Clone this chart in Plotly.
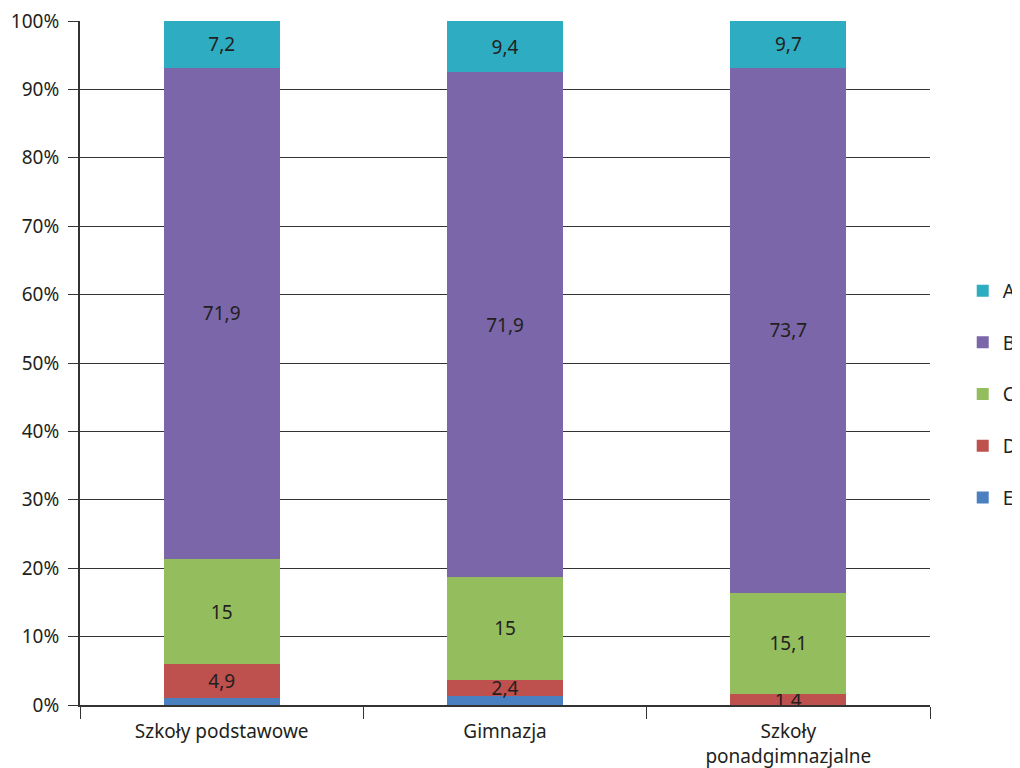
import plotly.graph_objects as go

categories = ["Szkoły podstawowe", "Gimnazja", "Szkoły<br>ponadgimnazjalne"]
series_names = ["E", "D", "C", "B", "A"]
# segment heights as drawn in the picture (percent of bar)
values_E = [1.0, 1.3, 0.0]
values_D = [5.0, 2.4, 1.6]
values_C = [15.3, 15.0, 14.8]
values_B = [71.9, 73.8, 76.8]
values_A = [6.8, 7.5, 6.8]
# numbers printed on the segments
labels_D = ["4,9", "2,4", "1,4"]
labels_C = ["15", "15", "15,1"]
labels_B = ["71,9", "71,9", "73,7"]
labels_A = ["7,2", "9,4", "9,7"]
y_ticks = [0, 10, 20, 30, 40, 50, 60, 70, 80, 90, 100]
y_tick_labels = [f"{v}%" for v in y_ticks]

colors = {"A": "#2eacc2", "B": "#7a66a8", "C": "#94bd5e", "D": "#be504d", "E": "#4a80bf"}
series = {"E": values_E, "D": values_D, "C": values_C, "B": values_B, "A": values_A}
labels = {"E": None, "D": labels_D, "C": labels_C, "B": labels_B, "A": labels_A}
ranks = {"A": 1, "B": 2, "C": 3, "D": 4, "E": 5}

FONT = "Noto Sans"
FS = 19
fig = go.Figure()
for name in series_names:
    vals = series[name]
    txt = labels[name]
    fig.add_trace(go.Bar(
        name=name,
        x=categories,
        y=vals,
        marker=dict(color=colors[name], line=dict(width=0)),
        text=txt,
        textposition="inside" if txt else "none",
        insidetextanchor="middle",
        textangle=0,
        textfont=dict(family=FONT, size=FS, color="#231f20"),
        constraintext="none",
        legendgroup=name,
        legendrank=ranks[name],
        hoverinfo="name+y",
    ))

fig.update_layout(
    barmode="stack",
    bargap=0.59,
    width=1020,
    height=768,
    margin=dict(l=72, r=98, t=13, b=71, autoexpand=False),
    paper_bgcolor="white",
    plot_bgcolor="white",
    font=dict(family=FONT, size=FS, color="#231f20"),
    uniformtext=dict(mode=False),
    legend=dict(
        xref="container", yref="container",
        x=0.936, xanchor="left", y=0.497, yanchor="middle",
        traceorder="grouped",
        tracegroupgap=24,
        font=dict(family=FONT, size=FS, color="#231f20"),
        itemwidth=30,
        bgcolor="rgba(0,0,0,0)",
    ),
    showlegend=True,
)
fig.update_xaxes(
    type="category",
    tickson="boundaries",
    ticks="outside",
    ticklen=12,
    tickcolor="#333333",
    tickwidth=1,
    showline=True,
    linecolor="#333333",
    linewidth=2,
    showgrid=False,
    automargin=False,
    ticklabelstandoff=8,
    tickfont=dict(family=FONT, size=FS, color="#231f20"),
)
fig.update_yaxes(
    range=[0, 100],
    tickvals=y_ticks,
    ticktext=y_tick_labels,
    ticks="outside",
    ticklen=10,
    tickcolor="#333333",
    showline=True,
    linecolor="#333333",
    linewidth=2,
    showgrid=True,
    gridcolor="#333333",
    gridwidth=1,
    zeroline=False,
    automargin=False,
    ticklabeloverflow="allow",
    ticklabelstandoff=5,
    tickfont=dict(family=FONT, size=FS, color="#231f20"),
)

fig.write_html("out.html")
